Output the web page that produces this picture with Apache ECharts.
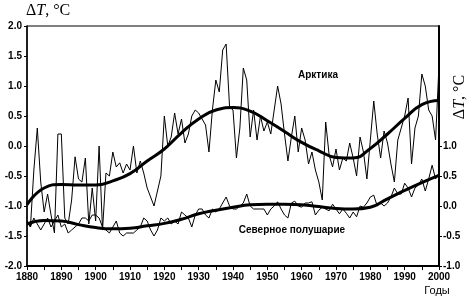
<!DOCTYPE html>
<html>
<head>
<meta charset="utf-8">
<script src="https://cdn.jsdelivr.net/npm/echarts@6/dist/echarts.min.js"></script>
<style>
  html, body { margin: 0; padding: 0; background: #fff; }
  #chart { width: 472px; height: 308px; }
</style>
</head>
<body>
<div id="chart"></div>
<script>
// годы 1880..2000
var startYear = 1880;

// Арктика, годовые аномалии (левая шкала)
var arcticYearly = [
  -1.25, -1.35, -0.4, 0.3, -0.6, -1.1, -0.8, -1.15, -1.45, 0.2,
  0.2, -1.2, -1.3, -0.9, -0.18, -0.55, -0.6, -0.2, -1.3, -0.7,
  -1.25, 0.0, -1.4, -0.45, -0.5, -0.1, -0.35, -0.28, -0.45, -0.3,
  -0.4, 0.0, -0.45, -0.25, -0.45, -0.7, -0.85, -1.0, -0.75, -0.5,
  0.5, 0.0, 0.15, 0.55, 0.2, 0.45, 0.05, 0.2, 0.5, 0.6,
  0.55, 0.45, 0.35, -0.1, 0.6, 1.1, 0.9, 1.6, 1.7, 0.65,
  0.6, -0.2, 0.3, 1.3, 1.1, 0.15, 0.6, 0.1, 0.5, 0.25,
  0.4, 0.2, 0.6, 1.0, 0.7, 0.2, -0.25, 0.15, 0.5, -0.1,
  0.3, 0.1, -0.3, -0.1, -0.4, -0.6, -0.9, 0.4, -0.15, -0.35,
  -0.05, -0.4, -0.2, -0.25, 0.05, -0.2, -0.5, 0.15, -0.1, -0.55,
  0.1, 0.75, 0.2, -0.2, 0.25, 0.05, -0.3, -0.6, 0.1, 0.3,
  0.5, 0.8, -0.3, 0.3, 0.5, 1.2, 1.0, 0.6, 0.5, 0.1,
  1.35
];

// Северное полушарие, годовые аномалии (правая шкала)
var nhYearly = [
  -0.25, -0.35, -0.2, -0.3, -0.4, -0.3, -0.2, -0.35, -0.25, -0.15,
  -0.35, -0.3, -0.45, -0.4, -0.35, -0.3, -0.2, -0.2, -0.25, -0.15,
  -0.15, -0.2, -0.35, -0.4, -0.45, -0.35, -0.25, -0.45, -0.5, -0.45,
  -0.45, -0.45, -0.4, -0.35, -0.2, -0.25, -0.4, -0.5, -0.4, -0.2,
  -0.25, -0.2, -0.3, -0.25, -0.3, -0.1, -0.15, -0.2, -0.35, -0.15,
  -0.05, -0.05, -0.15, -0.2, -0.05, -0.1, -0.05, 0.05, 0.15, 0.0,
  -0.05, -0.05, 0.0, 0.05, 0.2, 0.0, -0.05, -0.05, -0.05, -0.05,
  -0.15, -0.05, 0.0, 0.07, -0.05, -0.15, -0.2, 0.05, 0.08, 0.0,
  -0.02, 0.05, 0.05, 0.07, -0.15, -0.07, -0.02, -0.05, -0.08, 0.03,
  -0.05, -0.13, -0.05, -0.12, -0.2, -0.1, -0.18, 0.0, -0.02, 0.05,
  0.15, 0.18, 0.0, 0.05, 0.0, 0.05, 0.15, 0.3, 0.2, 0.2,
  0.38, 0.3, 0.15, 0.3, 0.35, 0.45, 0.25, 0.45, 0.68, 0.45,
  0.55
];

// сглаженные кривые, узлы через 5 лет
var smoothYears = [1880, 1885, 1890, 1895, 1900, 1905, 1910, 1915, 1920, 1925, 1930, 1935, 1940,
                   1945, 1950, 1955, 1960, 1965, 1970, 1975, 1980, 1985, 1990, 1995, 2000];
var arcticSmooth = [-0.98, -0.7, -0.64, -0.65, -0.65, -0.58, -0.46, -0.25, -0.05, 0.22, 0.45, 0.6, 0.64,
                    0.58, 0.42, 0.24, 0.06, -0.08, -0.19, -0.2, -0.04, 0.2, 0.46, 0.69, 0.76];
var nhSmooth = [-0.3, -0.24, -0.25, -0.31, -0.36, -0.38, -0.37, -0.33, -0.29, -0.22, -0.13, -0.07, -0.02,
                0.02, 0.03, 0.03, 0.02, -0.01, -0.04, -0.05, -0.02, 0.12, 0.26, 0.39, 0.51];

var rightTicks = [-1, -0.5, 0, 0.5, 1];

function pairs(vals) {
  return vals.map(function (v, i) { return [startYear + i, v]; });
}
function pairsAt(xs, vals) {
  return vals.map(function (v, i) { return [xs[i], v]; });
}

var labelFont = { color: '#000', fontFamily: 'Liberation Sans', fontSize: 10, fontWeight: 'bold' };

var myChart = echarts.init(document.getElementById('chart'), null, { renderer: 'canvas' });

var option = {
  backgroundColor: '#fff',
  animation: false,
  grid: {
    left: 27, right: 33, top: 26, bottom: 42,
    show: true, borderColor: '#000', borderWidth: 1, backgroundColor: 'transparent'
  },
  xAxis: {
    type: 'value',
    min: 1880, max: 2000, interval: 10,
    axisLine: { show: true, onZero: false, lineStyle: { color: '#000', width: 2 } },
    axisTick: { show: true, length: 4, lineStyle: { color: '#000', width: 1 } },
    minorTick: { show: true, splitNumber: 2, length: 4, lineStyle: { color: '#000', width: 1 } },
    splitLine: { show: false },
    axisLabel: Object.assign({ margin: 6, formatter: function (v) { return String(v); } }, labelFont)
  },
  yAxis: [
    {
      type: 'value',
      min: -2, max: 2, interval: 0.5,
      axisLine: { show: true, onZero: false, lineStyle: { color: '#000', width: 1.5 } },
      axisTick: { show: true, length: 3, lineStyle: { color: '#000', width: 1 } },
      splitLine: { show: false },
      axisLabel: Object.assign({ margin: 5, formatter: function (v) { return v.toFixed(1); } }, labelFont)
    },
    {
      type: 'value',
      position: 'right',
      min: -1, max: 3, interval: 0.5,
      axisLine: { show: true, onZero: false, lineStyle: { color: '#000', width: 2 } },
      axisTick: { show: true, length: 3, customValues: rightTicks, lineStyle: { color: '#000', width: 1 } },
      splitLine: { show: false },
      axisLabel: Object.assign({ margin: 4, customValues: rightTicks, formatter: function (v) { return v.toFixed(1); } }, labelFont)
    }
  ],
  series: [
    {
      name: 'Арктика', type: 'line', yAxisIndex: 0,
      data: pairs(arcticYearly), showSymbol: false,
      lineStyle: { color: '#000', width: 1 }, z: 2
    },
    {
      name: 'Арктика сглаж.', type: 'line', yAxisIndex: 0,
      data: pairsAt(smoothYears, arcticSmooth), showSymbol: false, smooth: 0.5,
      lineStyle: { color: '#000', width: 3 }, z: 3
    },
    {
      name: 'Северное полушарие', type: 'line', yAxisIndex: 1,
      data: pairs(nhYearly), showSymbol: false,
      lineStyle: { color: '#000', width: 1 }, z: 2
    },
    {
      name: 'Северное полушарие сглаж.', type: 'line', yAxisIndex: 1,
      data: pairsAt(smoothYears, nhSmooth), showSymbol: false, smooth: 0.5,
      lineStyle: { color: '#000', width: 3 }, z: 3
    }
  ],
  graphic: [
    {
      type: 'text', left: 26, top: 3,
      style: {
        text: '{a|Δ}{b|T}{a|, °C}',
        rich: {
          a: { fontFamily: 'Liberation Serif', fontSize: 16, fill: '#000' },
          b: { fontFamily: 'Liberation Serif', fontSize: 16, fontStyle: 'italic', fill: '#000' }
        }
      }
    },
    {
      type: 'text', x: 460, y: 97, rotation: Math.PI / 2,
      style: {
        text: '{a|Δ}{b|T}{a|, °C}', align: 'center', verticalAlign: 'middle',
        rich: {
          a: { fontFamily: 'Liberation Serif', fontSize: 16, fill: '#000' },
          b: { fontFamily: 'Liberation Serif', fontSize: 16, fontStyle: 'italic', fill: '#000' }
        }
      }
    },
    {
      type: 'text', x: 318, y: 75,
      style: { text: 'Арктика', align: 'center', verticalAlign: 'middle',
               fontFamily: 'Liberation Sans', fontSize: 10, fontWeight: 'bold', fill: '#000' }
    },
    {
      type: 'text', x: 292, y: 230,
      style: { text: 'Северное полушарие', align: 'center', verticalAlign: 'middle',
               fontFamily: 'Liberation Sans', fontSize: 10, fontWeight: 'bold', fill: '#000' }
    },
    {
      type: 'text', x: 437, y: 291,
      style: { text: 'Годы', align: 'center', verticalAlign: 'middle',
               fontFamily: 'Liberation Sans', fontSize: 11, fill: '#000' }
    }
  ]
};

myChart.setOption(option);
</script>
</body>
</html>
